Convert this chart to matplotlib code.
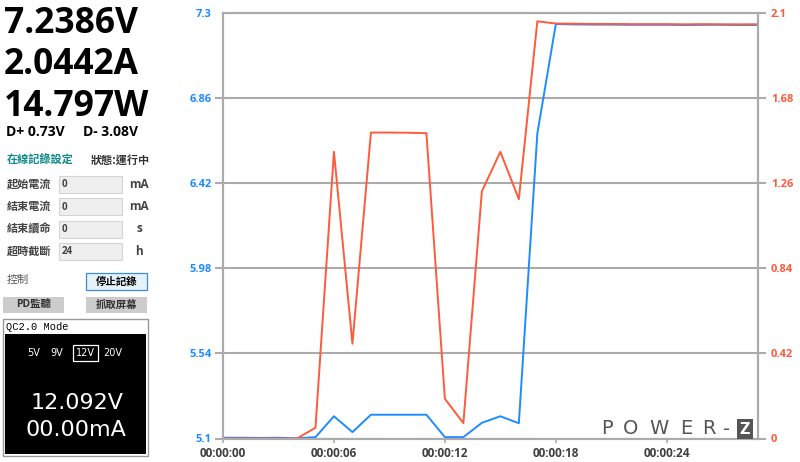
import matplotlib
matplotlib.use("Agg")
import matplotlib.pyplot as plt
from matplotlib import font_manager as fm
from matplotlib.patches import Rectangle
from matplotlib.ticker import FuncFormatter

# readings, one per second
seconds = list(range(30))
volts = [5.104, 5.104, 5.103, 5.104, 5.101, 5.107, 5.215, 5.133, 5.223, 5.223,
         5.223, 5.223, 5.107, 5.107, 5.181, 5.215, 5.179, 6.677, 7.243, 7.241,
         7.240, 7.240, 7.239, 7.239, 7.239, 7.238, 7.239, 7.239, 7.238, 7.2386]
amps = [0.0, 0.0, 0.0, 0.0, 0.0, 0.053, 1.415, 0.468, 1.510, 1.510,
        1.509, 1.507, 0.196, 0.076, 1.220, 1.415, 1.181, 2.059, 2.048, 2.047,
        2.046, 2.046, 2.045, 2.045, 2.045, 2.044, 2.045, 2.044, 2.044, 2.0442]

v_ticks = [5.1, 5.54, 5.98, 6.42, 6.86, 7.3]
v_labels = ["5.1", "5.54", "5.98", "6.42", "6.86", "7.3"]
a_ticks = [0, 0.42, 0.84, 1.26, 1.68, 2.1]
a_labels = ["0", "0.42", "0.84", "1.26", "1.68", "2.1"]
x_ticks = [0, 6, 12, 18, 24]

readout = ["7.2386V", "2.0442A", "14.797W"]
settings = [("起始電流", "0", "mA"), ("結束電流", "0", "mA"),
            ("結束續命", "0", "s"), ("超時截斷", "24", "h")]

plt.rcParams["font.family"] = ["Open Sans", "Noto Sans CJK TC", "DejaVu Sans"]

names = {f.name for f in fm.fontManager.ttflist}
narrow = "Liberation Sans Narrow" in names
lcd_font = "Liberation Sans Narrow" if narrow else "DejaVu Sans"
lcd_size = 22 if narrow else 16
mono_font = "Liberation Mono" if "Liberation Mono" in names else "DejaVu Sans Mono"
CJK = ["Noto Sans CJK TC"]

BLUE = "#1E8CFF"
RED = "#FF5A3C"
GRID = "#ABABAB"

fig = plt.figure(figsize=(8, 4.62), dpi=100)

# ---- left panel, drawn in pixel coordinates ----
ui = fig.add_axes([0, 0, 1, 1], zorder=0)
ui.set_xlim(0, 800)
ui.set_ylim(462, 0)
ui.axis("off")

for i, s in enumerate(readout):
    ui.text(4, 33 + i * 41.5, s, fontsize=25.5, fontweight="bold", color="black", va="baseline")
ui.text(6, 136.5, "D+ 0.73V", fontsize=10, fontweight="bold", va="baseline")
ui.text(83, 136.5, "D- 3.08V", fontsize=10, fontweight="bold", va="baseline")

ui.text(7, 160, "在線記錄設定", fontsize=8, color="#0B8A8A", va="center",
        fontweight="bold", family=CJK)
ui.text(91, 160, "狀態:運行中", fontsize=8, color="#333333", va="center",
        fontweight="bold", family=CJK)

for i, (name, val, unit) in enumerate(settings):
    yc = 184 + i * 22.5
    ui.text(7, yc, name, fontsize=8, color="#444444", va="center", fontweight="bold", family=CJK)
    ui.add_patch(Rectangle((59, yc - 8.5), 63, 17, facecolor="#EFEFEF", edgecolor="#D4D4D4", lw=0.8))
    ui.text(62, yc + 0.5, val, fontsize=7, fontweight="bold", color="#444444", va="center")
    ui.text(139, yc, unit, fontsize=8.5, fontweight="bold", color="#444444", va="center", ha="center")

ui.text(7, 280, "控制", fontsize=8, color="#555555", va="center", family=CJK)
ui.add_patch(Rectangle((86, 273), 61, 17, facecolor="#E5F1FB", edgecolor="#3C8CD8", lw=0.9))
ui.text(116.5, 282, "停止記錄", fontsize=7.5, fontweight="bold", ha="center", va="center", family=CJK)
ui.add_patch(Rectangle((3, 297), 61, 16, facecolor="#CCCCCC", edgecolor="none"))
ui.text(33.5, 305, "PD監聽", fontsize=7.5, fontweight="bold", color="#333333", ha="center", va="center")
ui.add_patch(Rectangle((86, 297), 61, 16, facecolor="#CCCCCC", edgecolor="none"))
ui.text(116.5, 305, "抓取屏幕", fontsize=7.5, fontweight="bold", color="#333333", ha="center", va="center",
        family=CJK)

# QC2.0 mode screen
ui.add_patch(Rectangle((3, 319), 145, 137, facecolor="white", edgecolor="#999999", lw=1))
ui.add_patch(Rectangle((5, 334), 141, 120, facecolor="black", edgecolor="none"))
ui.text(6, 327, "QC2.0 Mode", fontsize=7.5, family=[mono_font], va="center", color="black")
for x, s in [(34, "5V"), (56.5, "9V"), (85.5, "12V"), (113, "20V")]:
    ui.text(x, 353, s, fontsize=7, family=[lcd_font], color="white", ha="center", va="center")
ui.add_patch(Rectangle((73, 345), 25, 16, facecolor="none", edgecolor="white", lw=0.9))
ui.text(77, 409, "12.092V", fontsize=lcd_size, family=[lcd_font], color="white", ha="center", va="baseline")
ui.text(76, 436, "00.00mA", fontsize=lcd_size, family=[lcd_font], color="white", ha="center", va="baseline")

# ---- chart ----
ax = fig.add_axes([223 / 800, 23.5 / 462, 535.3 / 800, 425.5 / 462], zorder=1)
ax2 = ax.twinx()

ax.plot(seconds, volts, color=BLUE, lw=1.4)
ax2.plot(seconds, amps, color=RED, lw=1.4)

ax.set_xlim(0, 28.95)
ax.set_ylim(5.1, 7.3)
ax2.set_ylim(0, 2.1)

ax.set_yticks(v_ticks)
ax.set_yticklabels(v_labels)
ax2.set_yticks(a_ticks)
ax2.set_yticklabels(a_labels)
ax.set_xticks(x_ticks)
ax.xaxis.set_major_formatter(FuncFormatter(lambda s, p: "00:00:%02d" % int(s)))

ax.grid(axis="y", color=GRID, lw=1.5)
for a in (ax, ax2):
    for sp in a.spines.values():
        sp.set_color(GRID)
        sp.set_linewidth(1.5)

ax.tick_params(axis="y", length=6, width=1.5, color=GRID, pad=2,
               labelcolor=BLUE, labelsize=8)
ax2.tick_params(axis="y", length=6, width=1.5, color=GRID, pad=3,
                labelcolor=RED, labelsize=8)
ax.tick_params(axis="x", length=3, width=1.2, color=GRID, pad=3,
               labelcolor="#404040", labelsize=8.5)
for lab in ax.get_yticklabels() + ax2.get_yticklabels() + ax.get_xticklabels():
    lab.set_fontweight("bold")
ax.yaxis.get_major_ticks()[-1].tick1line.set_visible(False)

# POWER-Z logo
for x, ch in [(607, "P"), (631, "O"), (659, "W"), (686, "E"), (709, "R"), (727, "-")]:
    ax2.text(x, 429, ch, transform=ui.transData, fontsize=14, color="#555555",
             ha="center", va="center", family=["DejaVu Sans"])
ax2.text(745, 429, "Z", transform=ui.transData, fontsize=10.5, color="white", fontweight="bold",
         ha="center", va="center", family=["DejaVu Sans"],
         bbox=dict(boxstyle="square,pad=0.2", facecolor="#555555", edgecolor="none"))

fig.savefig("out.png", dpi=100)
